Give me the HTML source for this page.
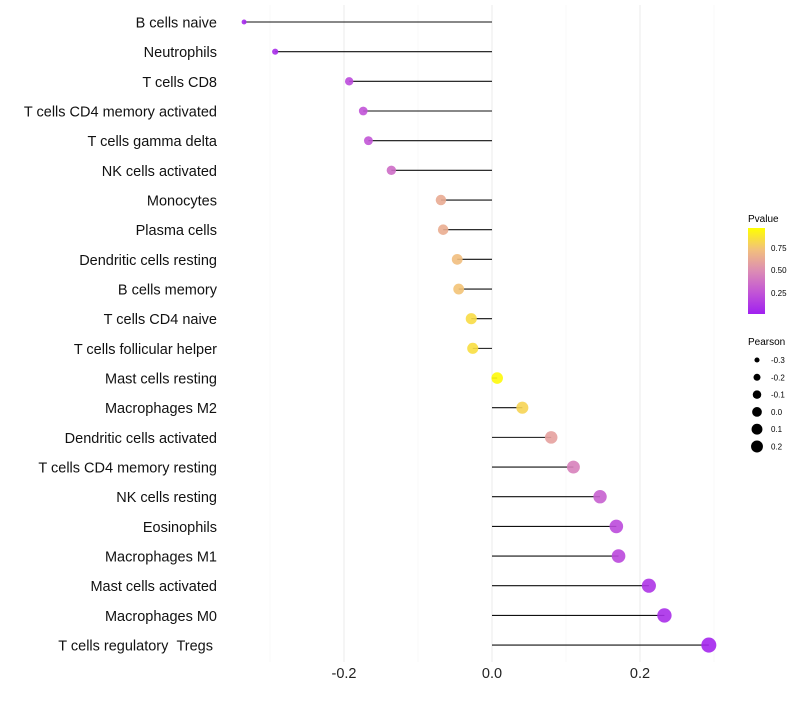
<!DOCTYPE html>
<html><head><meta charset="utf-8"><style>
body{margin:0;background:#fff;font-family:"Liberation Sans",sans-serif;}
svg text{font-family:"Liberation Sans",sans-serif;white-space:pre;}
</style></head><body>
<svg id="chart" width="800" height="700">
<defs>
<linearGradient id="pg" x1="0" y1="1" x2="0" y2="0">
<stop offset="0" stop-color="#a020f0"/>
<stop offset="0.25" stop-color="#c255d6"/>
<stop offset="0.5" stop-color="#dc8cb4"/>
<stop offset="0.75" stop-color="#f2c07c"/>
<stop offset="1" stop-color="#ffff00"/>
</linearGradient>
</defs>
<g id="grid"></g><g id="marks"></g><g id="labels"></g>
<g>
<text x="748" y="222" font-size="10">Pvalue</text>
<rect x="748" y="228" width="17" height="86" fill="url(#pg)"/>
<text x="771" y="251" font-size="8">0.75</text>
<text x="771" y="273" font-size="8">0.50</text>
<text x="771" y="296" font-size="8">0.25</text>
</g>
<g id="sizeleg">
<text x="748" y="345" font-size="10">Pearson</text>
</g>
</svg>
<script>
const categories=["B cells naive","Neutrophils","T cells CD8","T cells CD4 memory activated","T cells gamma delta","NK cells activated","Monocytes","Plasma cells","Dendritic cells resting","B cells memory","T cells CD4 naive","T cells follicular helper","Mast cells resting","Macrophages M2","Dendritic cells activated","T cells CD4 memory resting","NK cells resting","Eosinophils","Macrophages M1","Mast cells activated","Macrophages M0","T cells regulatory\u00a0\u00a0Tregs\u00a0"];
const pearson=[-0.335,-0.293,-0.193,-0.174,-0.167,-0.136,-0.069,-0.066,-0.047,-0.045,-0.028,-0.026,0.007,0.041,0.080,0.110,0.146,0.168,0.171,0.212,0.233,0.293];
const pvalue=[0.04,0.06,0.2,0.24,0.25,0.36,0.65,0.66,0.74,0.76,0.86,0.87,0.98,0.83,0.6,0.45,0.3,0.2,0.19,0.1,0.07,0.03];
const xTicks=[-0.2,0.0,0.2];
const minorTicks=[-0.3,-0.1,0.1,0.3];
const sizeLegend=[-0.3,-0.2,-0.1,0.0,0.1,0.2];
const NS="http://www.w3.org/2000/svg";
const x=v=>492+v*740;
const y=i=>22+i*29.67;
const r=v=>Math.sqrt(5+(v+0.35)/0.65*52);
function col(p){const st=[[0,[160,32,240]],[0.25,[194,85,214]],[0.5,[220,140,180]],[0.75,[242,192,124]],[1,[255,255,0]]];
for(let k=0;k<st.length-1;k++){const a=st[k],b=st[k+1];if(p<=b[0]){const t=(p-a[0])/(b[0]-a[0]);return "rgb("+a[1].map((c,j)=>Math.round(c+(b[1][j]-c)*t)).join(",")+")";}}return "rgb(255,255,0)";}
function mk(t,at,parent){const e=document.createElementNS(NS,t);for(const k in at)e.setAttribute(k,at[k]);parent.appendChild(e);return e;}
const g=document.getElementById('grid'),m=document.getElementById('marks'),lb=document.getElementById('labels');
minorTicks.forEach(v=>{const l=mk('line',{x1:x(v),x2:x(v),y1:5,y2:662,stroke:'#f6f6f6','stroke-width':0.7},g);

});
xTicks.forEach(v=>{const l=mk('line',{x1:x(v),x2:x(v),y1:5,y2:662,stroke:'#ebebeb','stroke-width':1},g);


const t=mk('text',{x:x(v),y:678,'font-size':14.5,'text-anchor':'middle',fill:'#222'},lb);t.textContent=v.toFixed(1);

});
categories.forEach((c,i)=>{
const t=mk('text',{x:217,y:y(i)+5.5,'font-size':14.5,'text-anchor':'end',fill:'#111'},lb);t.textContent=c;


const ln=mk('line',{x1:x(0),x2:x(pearson[i]),y1:y(i),y2:y(i),stroke:'#111','stroke-width':1.1},m);


const ci=mk('circle',{cx:x(pearson[i]),cy:y(i),r:r(pearson[i]),fill:col(pvalue[i]),'fill-opacity':0.9},m);


});
const sl=document.getElementById('sizeleg');
sizeLegend.forEach((v,i)=>{const cy=360+i*17.3;
const c=mk('circle',{cx:757,cy:cy,r:r(v)*0.85,fill:'#000'},sl);


const t=mk('text',{x:771,y:cy+3,'font-size':8},sl);t.textContent=v.toFixed(1);

});
</script>
</body></html>
